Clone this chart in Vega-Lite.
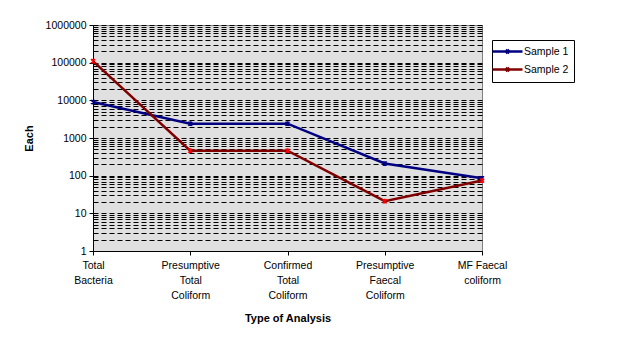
{
  "$schema": "https://vega.github.io/schema/vega-lite/v6.json",
  "width": 389,
  "height": 226,
  "autosize": {"type": "none"},
  "padding": {"left": 93, "top": 25, "right": 135, "bottom": 97},
  "background": "white",
  "config": {
    "font": "Liberation Sans",
    "view": {"fill": "#E0E0E0", "stroke": "#808080", "strokeWidth": 1},
    "axis": {"labelColor": "black", "titleColor": "black", "domainColor": "black", "tickColor": "black", "labelFontSize": 10.5, "titleFontSize": 11, "titleFontWeight": "bold", "labelFont": "Liberation Sans", "titleFont": "Liberation Sans"}
  },
  "data": {
    "values": [
      {"analysis": "Total Bacteria", "series": "Sample 1", "count": 9000},
      {"analysis": "Presumptive Total Coliform", "series": "Sample 1", "count": 2400},
      {"analysis": "Confirmed Total Coliform", "series": "Sample 1", "count": 2400},
      {"analysis": "Presumptive Faecal Coliform", "series": "Sample 1", "count": 210},
      {"analysis": "MF Faecal coliform", "series": "Sample 1", "count": 85},
      {"analysis": "Total Bacteria", "series": "Sample 2", "count": 110000},
      {"analysis": "Presumptive Total Coliform", "series": "Sample 2", "count": 460},
      {"analysis": "Confirmed Total Coliform", "series": "Sample 2", "count": 460},
      {"analysis": "Presumptive Faecal Coliform", "series": "Sample 2", "count": 21},
      {"analysis": "MF Faecal coliform", "series": "Sample 2", "count": 74}
    ]
  },
  "encoding": {
    "x": {
      "field": "analysis",
      "type": "nominal",
      "sort": null,
      "scale": {"type": "point", "padding": 0},
      "axis": {
        "title": "Type of Analysis",
        "labelAngle": 0,
        "labelExpr": "datum.label == 'MF Faecal coliform' ? ['MF Faecal', 'coliform'] : split(datum.label, ' ')",
        "labelLineHeight": 15,
        "labelPadding": 5,
        "labelBaseline": "top",
        "tickSize": 4,
        "grid": false,
        "titlePadding": 12
      }
    },
    "y": {
      "field": "count",
      "type": "quantitative",
      "scale": {"type": "log", "domain": [1, 1000000], "nice": false},
      "axis": {
        "title": "Each",
        "values": [1,2,3,4,5,6,7,8,9,10,20,30,40,50,60,70,80,90,100,200,300,400,500,600,700,800,900,1000,2000,3000,4000,5000,6000,7000,8000,9000,10000,20000,30000,40000,50000,60000,70000,80000,90000,100000,200000,300000,400000,500000,600000,700000,800000,900000,1000000],
        "format": "d",
        "labelExpr": "indexof([1,10,100,1000,10000,100000,1000000], datum.value) >= 0 ? datum.label : ''",
        "tickOpacity": {"condition": {"test": "indexof([1,10,100,1000,10000,100000,1000000], datum.value) >= 0", "value": 1}, "value": 0},
        "tickSize": 4,
        "labelPadding": 3,
        "grid": true,
        "gridColor": "black",
        "gridDash": [5, 3],
        "gridWidth": 1,
        "titlePadding": 11
      }
    }
  },
  "layer": [
    {
      "mark": {"type": "line", "strokeWidth": 2.5},
      "encoding": {
        "color": {
          "field": "series",
          "type": "nominal",
          "scale": {"domain": ["Sample 1", "Sample 2"], "range": ["#000080", "#800000"]},
          "legend": {
            "title": null,
            "orient": "none",
            "legendX": 399,
            "legendY": 15,
            "strokeColor": "black",
            "fillColor": "white",
            "padding": 5,
            "labelFontSize": 10.5,
            "labelColor": "black",
            "symbolType": "M-3,0L3,0M-0.35,-0.35L0.35,0.35M-0.35,0.35L0.35,-0.35M0,-0.4L0,0.4",
            "symbolSize": 100,
            "symbolStrokeWidth": 2.5,
            "symbolOffset": 4,
            "rowPadding": 3,
            "labelOffset": 10,
            "labelLimit": 60
          }
        }
      }
    },
    {
      "mark": {"type": "point", "shape": "M-1,-1L1,1M-1,1L1,-1M0,-1.2L0,1.2", "filled": false, "size": 16, "strokeWidth": 1.5, "opacity": 1},
      "encoding": {
        "stroke": {
          "field": "series",
          "type": "nominal",
          "scale": {"domain": ["Sample 1", "Sample 2"], "range": ["#000080", "#FF0000"]},
          "legend": null
        }
      }
    }
  ]
}
